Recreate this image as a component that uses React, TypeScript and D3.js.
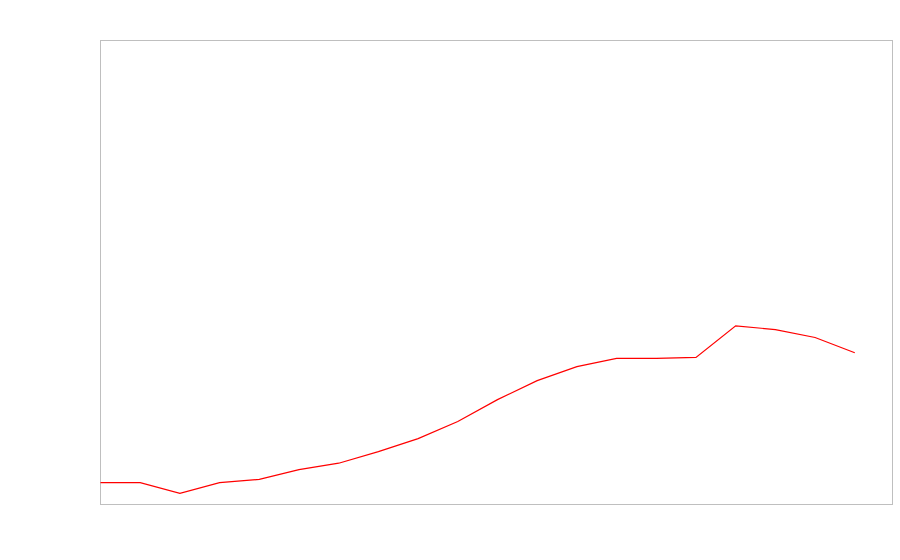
import React from "react";
import * as d3 from "d3";

const indices: number[] = [0, 1, 2, 3, 4, 5, 6, 7, 8, 9, 10, 11, 12, 13, 14, 15, 16, 17, 18, 19];
const values: number[] = [4.7, 4.7, 2.4, 4.7, 5.4, 7.5, 8.9, 11.4, 14.2, 17.9, 22.6, 26.7, 29.7, 31.5, 31.5, 31.7, 38.5, 37.7, 36.0, 32.7];

const W = 900;
const H = 560;
const margin = { left: 100.5, top: 40.5, right: 7.5, bottom: 55.5 };

export default function App() {
  const x = d3.scaleLinear().domain([0, 19.95]).range([margin.left, W - margin.right]);
  const y = d3.scaleLinear().domain([0, 100]).range([H - margin.bottom, margin.top]);
  const line = d3
    .line<number>()
    .x((_, i) => x(indices[i]))
    .y((d) => y(d));
  return (
    <div style={{ position: "absolute", left: 0, top: 0 }}>
      <svg width={W} height={H} style={{ display: "block", background: "#fff" }}>
        <rect
          x={margin.left}
          y={margin.top}
          width={W - margin.left - margin.right}
          height={H - margin.top - margin.bottom}
          fill="none"
          stroke="#bfbfbf"
          strokeWidth={1}
        />
        <path d={line(values) || ""} fill="none" stroke="#ff0000" strokeWidth={1.2} />
      </svg>
    </div>
  );
}
